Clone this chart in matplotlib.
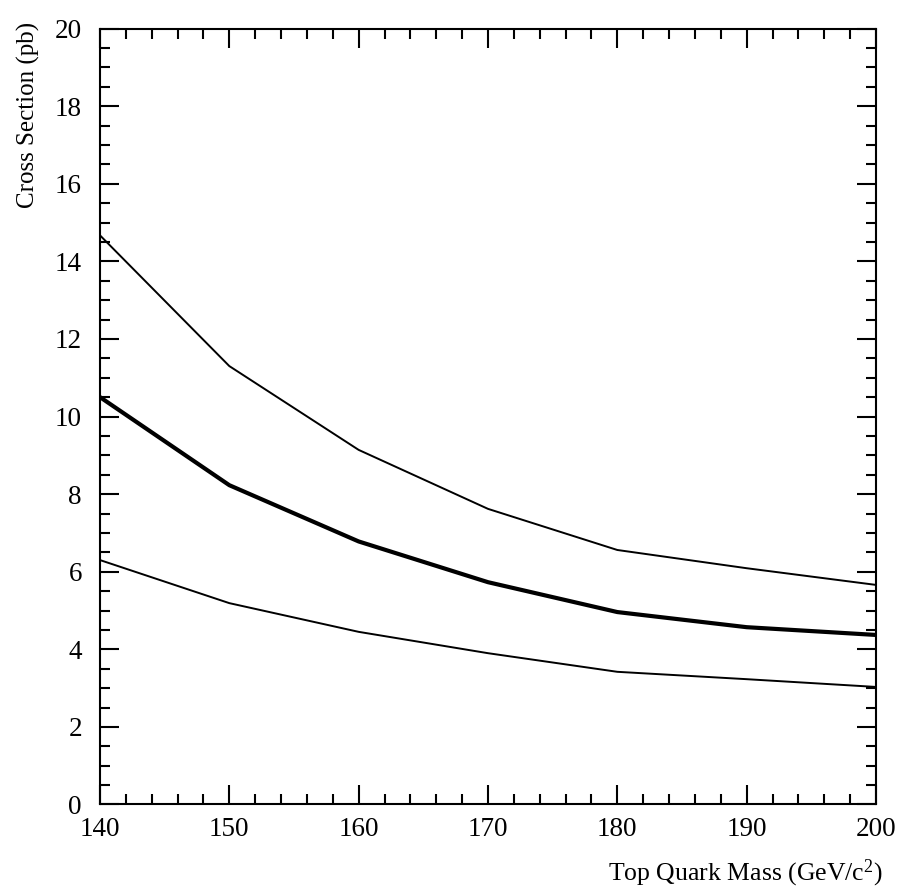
import matplotlib
matplotlib.use("Agg")
import matplotlib.pyplot as plt
from matplotlib.ticker import MultipleLocator

plt.rcParams['font.family'] = ['Liberation Serif', 'DejaVu Serif']
plt.rcParams['mathtext.default'] = 'regular'

# top quark mass (GeV/c^2)
mass = [140, 150, 160, 170, 180, 190, 200]
# cross sections (pb)
xsec_upper = [14.67, 11.30, 9.14, 7.62, 6.56, 6.09, 5.66]
xsec_central = [10.50, 8.23, 6.78, 5.73, 4.96, 4.57, 4.37]
xsec_lower = [6.30, 5.19, 4.45, 3.90, 3.42, 3.23, 3.03]

fig = plt.figure(figsize=(9, 8.92), dpi=100)
ax = fig.add_axes([0.1111, 0.0981, 0.8622, 0.8699])

ax.plot(mass, xsec_upper, color='black', lw=1.4)
ax.plot(mass, xsec_central, color='black', lw=3.0)
ax.plot(mass, xsec_lower, color='black', lw=1.4)

ax.set_xlim(140, 200)
ax.set_ylim(0, 20)
ax.xaxis.set_major_locator(MultipleLocator(10))
ax.xaxis.set_minor_locator(MultipleLocator(2))
ax.yaxis.set_major_locator(MultipleLocator(2))
ax.yaxis.set_minor_locator(MultipleLocator(0.5))

ax.tick_params(which='both', direction='in', top=True, right=True,
               width=1.5, colors='black')
ax.tick_params(which='major', length=14, labelsize=19.5)
ax.tick_params(which='minor', length=7)
ax.tick_params(axis='x', which='major', pad=9)
ax.tick_params(axis='y', which='major', pad=13)
for s in ax.spines.values():
    s.set_linewidth(1.5)

ax.set_xlabel('Top Quark Mass (GeV/c$^2$)', fontsize=18.5, ha='right')
ax.xaxis.set_label_coords(1.009, -0.068, transform=ax.transAxes)
ax.set_ylabel('Cross Section (pb)', fontsize=18, ha='right')
ax.yaxis.set_label_coords(-0.077, 1.008, transform=ax.transAxes)

fig.savefig('out.png', dpi=100)
